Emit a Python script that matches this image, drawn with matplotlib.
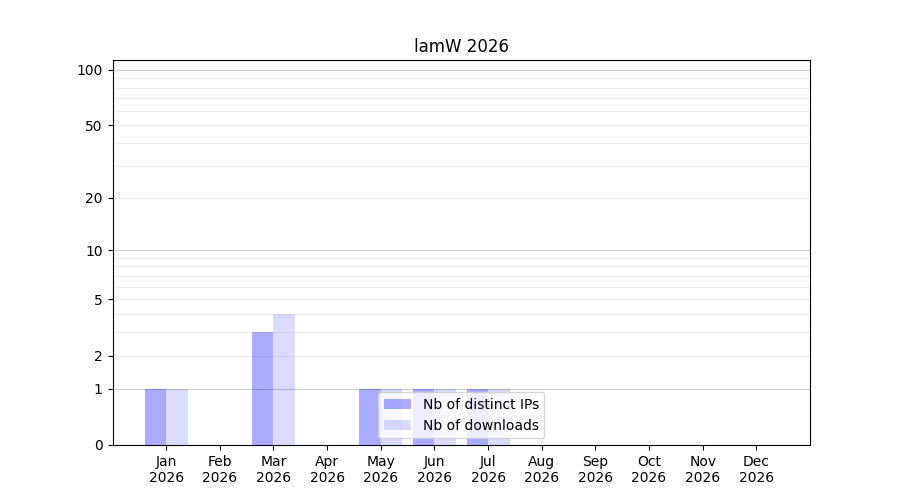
import numpy as np
import matplotlib
matplotlib.use("Agg")
import matplotlib.pyplot as plt

months = ["Jan", "Feb", "Mar", "Apr", "May", "Jun", "Jul", "Aug", "Sep", "Oct", "Nov", "Dec"]
year = "2026"
distinct_ips = [1, 0, 3, 0, 1, 1, 1, 0, 0, 0, 0, 0]
downloads = [1, 0, 4, 0, 1, 1, 1, 0, 0, 0, 0, 0]
yticks = [0, 1, 2, 5, 10, 20, 50, 100]


def fwd(y):
    return np.log10(1 + np.clip(y, 0, None))


def inv(y):
    return 10 ** y - 1


fig, ax = plt.subplots(figsize=(9, 5), dpi=100)
ax.set_yscale("function", functions=(fwd, inv))

# grid lines: darker at decades, light in between
for d in [1, 10, 100]:
    ax.axhline(d, color="#cccccc", lw=0.8, zorder=0)
for d in [1, 10]:
    for k in range(2, 10):
        ax.axhline(d * k, color="#eeeeee", lw=0.8, zorder=0)

x = np.arange(len(months))
w = 0.4
ax.bar(x - w / 2, distinct_ips, w, color="blue", alpha=0.33, label="Nb of distinct IPs", zorder=1)
ax.bar(x + w / 2, downloads, w, color="blue", alpha=0.14, label="Nb of downloads", zorder=1)

ax.set_xticks(x)
ax.set_xticklabels([m + "\n" + year for m in months])
ax.set_yticks(yticks)
ax.set_yticklabels([str(t) for t in yticks])
ax.yaxis.set_minor_locator(matplotlib.ticker.NullLocator())
ax.set_xlim(-1, 12)
ax.set_ylim(0, 113)
ax.set_title("lamW 2026")
ax.legend(loc="lower center")

fig.savefig("out.png")
